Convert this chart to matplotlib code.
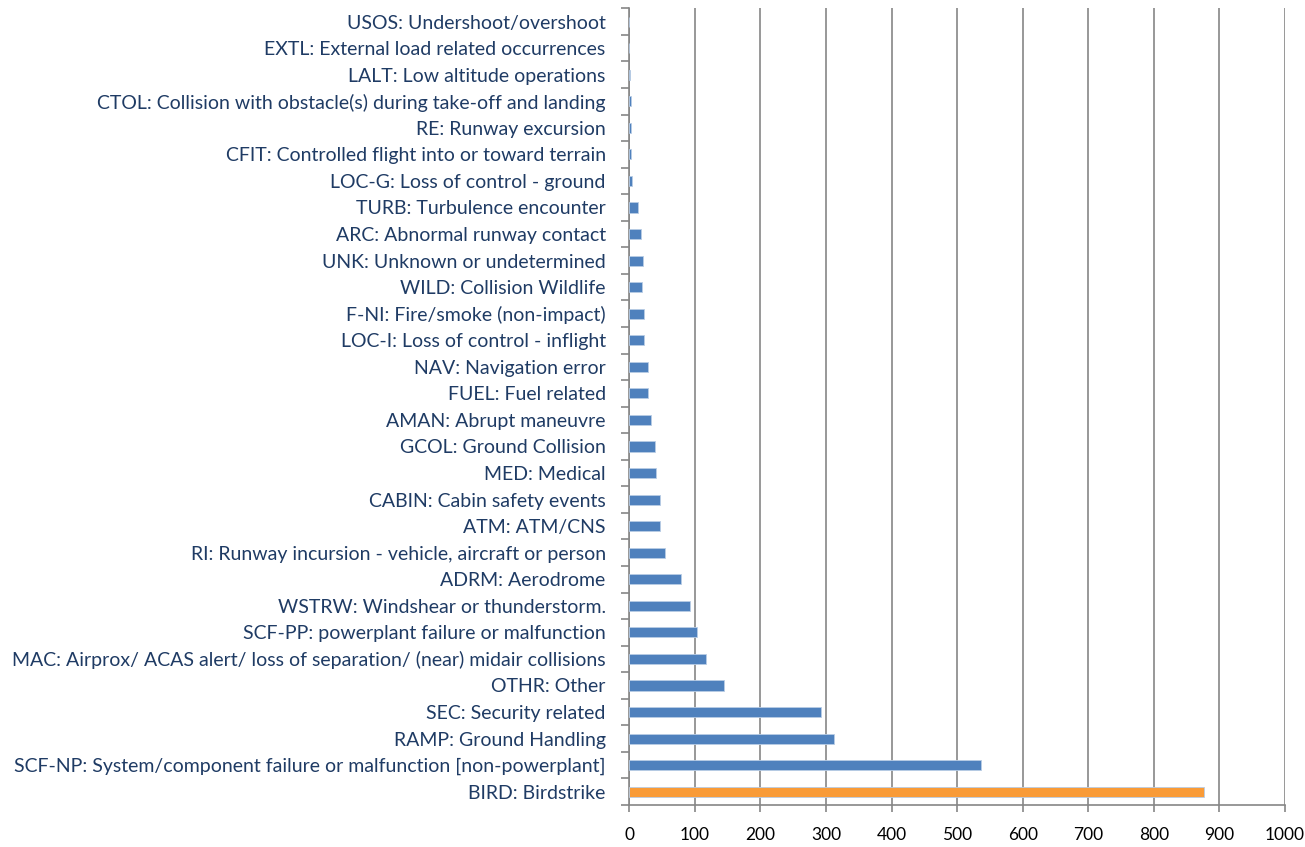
import numpy as np
import matplotlib.pyplot as plt

plt.rcParams['font.family'] = ['Lato', 'DejaVu Sans']

# occurrence categories, bottom to top as drawn
categories = [
    'BIRD: Birdstrike',
    'SCF-NP: System/component failure or malfunction [non-powerplant]',
    'RAMP: Ground Handling',
    'SEC: Security related',
    'OTHR: Other',
    'MAC: Airprox/ ACAS alert/ loss of separation/ (near) midair collisions',
    'SCF-PP: powerplant failure or malfunction',
    'WSTRW: Windshear or thunderstorm.',
    'ADRM: Aerodrome',
    'RI: Runway incursion - vehicle, aircraft or person',
    'ATM: ATM/CNS',
    'CABIN: Cabin safety events',
    'MED: Medical',
    'GCOL: Ground Collision',
    'AMAN: Abrupt maneuvre',
    'FUEL: Fuel related',
    'NAV: Navigation error',
    'LOC-I: Loss of control - inflight',
    'F-NI: Fire/smoke (non-impact)',
    'WILD: Collision Wildlife',
    'UNK: Unknown or undetermined',
    'ARC: Abnormal runway contact',
    'TURB: Turbulence encounter',
    'LOC-G: Loss of control - ground',
    'CFIT: Controlled flight into or toward terrain',
    'RE: Runway excursion',
    'CTOL: Collision with obstacle(s) during take-off and landing',
    'LALT: Low altitude operations',
    'EXTL: External load related occurrences',
    'USOS: Undershoot/overshoot',
]
counts = [877, 537, 312, 292, 144, 117, 103, 93, 79, 54, 47, 47, 40, 39, 33,
          29, 29, 22, 22, 20, 21, 18, 14, 4, 3, 3, 2, 1, 0, 0]

xticks = np.arange(0, 1001, 100)

blue = '#4F81BD'
orange = '#F99B37'
grey = '#868686'
navy = '#1F3B64'

colors = [orange] + [blue] * (len(categories) - 1)

fig = plt.figure(figsize=(13.05, 8.47), dpi=100)
ax = fig.add_axes([629.3 / 1305, 1 - 805 / 847, (1285 - 629.3) / 1305, (805 - 8.3) / 847])

y = np.arange(len(categories))
ax.barh(y, counts, height=0.38, color=colors, edgecolor='#B9CDE5', linewidth=0.6, zorder=3)

ax.set_xlim(0, 1000)
ax.set_ylim(-0.5, len(categories) - 0.5)
ax.set_xticks(xticks)
ax.set_xticklabels([str(v) for v in xticks], fontsize=12.5, color='black')
ax.set_yticks(y)
ax.set_yticklabels(categories, fontsize=14, color=navy)
ax.tick_params(axis='y', length=0, pad=17)
ax.tick_params(axis='x', length=5, width=1.2, color=grey, pad=11)

# category boundary ticks on the y axis
ax.set_yticks(np.arange(-0.5, len(categories)), minor=True)
ax.tick_params(axis='y', which='minor', length=6, width=1.2, color=grey)

ax.grid(axis='x', color=grey, linewidth=1.2, zorder=0)
for side in ['top', 'right']:
    ax.spines[side].set_visible(False)
for side in ['left', 'bottom']:
    ax.spines[side].set_color(grey)
    ax.spines[side].set_linewidth(1.2)

fig.savefig('out.png', dpi=100)
